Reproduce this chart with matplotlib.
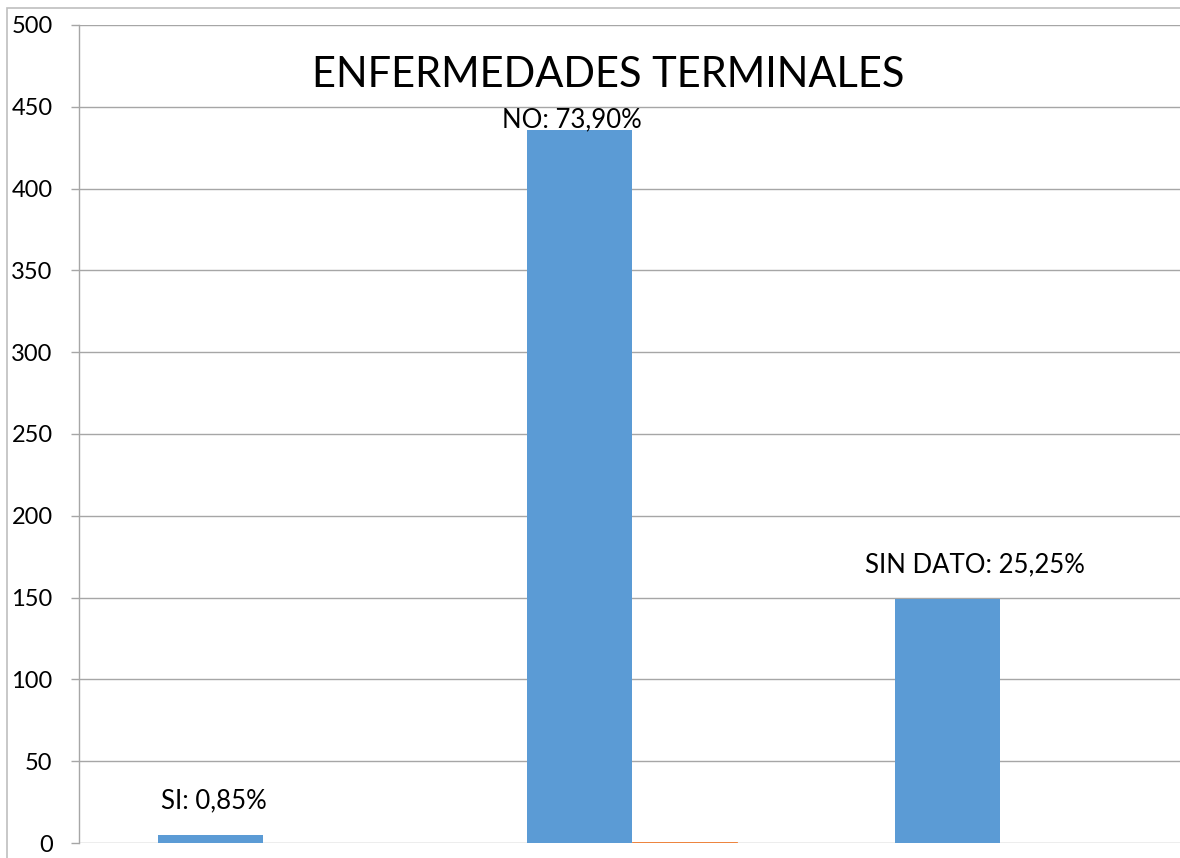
import matplotlib
matplotlib.use('Agg')
from matplotlib import pyplot as plt
from matplotlib.patches import Rectangle
import numpy as np

# Chart data
categories = ['SI', 'NO', 'SIN DATO']
counts = [5, 436, 149]
shares = [0.0085, 0.739, 0.2525]
labels = ['SI: 0,85%', 'NO: 73,90%', 'SIN DATO: 25,25%']
y_ticks = [0, 50, 100, 150, 200, 250, 300, 350, 400, 450, 500]

plt.rcParams['font.family'] = ['Lato', 'DejaVu Sans']

blue = '#5B9BD5'
orange = '#ED7D31'
grid_gray = '#A6A6A6'

fig = plt.figure(figsize=(11.8, 8.58), dpi=100, facecolor='white')

# outer chart border
fig.patches.append(Rectangle((7 / 1180, -0.1), 1.2, (858 - 8) / 858 + 0.1,
                             transform=fig.transFigure, fill=False,
                             edgecolor='#BFBFBF', linewidth=1.2))

ax = fig.add_axes([79 / 1180, 15 / 858, 1105.5 / 1180, 818 / 858])

x = np.arange(len(categories))
width = 0.285
ax.bar(x - width / 2, counts, width, color=blue, zorder=3)
# the orange series is almost flat; a thin edge keeps it visible like the original
ax.bar(x + width / 2, shares, width, color=orange, edgecolor=orange,
       linewidth=0.6, zorder=3)

ax.set_xlim(-0.5, len(categories) - 0.5)
ax.set_ylim(0, 500)
ax.set_yticks(y_ticks)
ax.set_xticks([])
ax.yaxis.grid(True, color=grid_gray, linewidth=1.0, zorder=0)
ax.tick_params(axis='y', length=6, width=1.0, color=grid_gray, pad=13, labelsize=17)

for side in ['top', 'right', 'bottom']:
    ax.spines[side].set_visible(False)
ax.spines['left'].set_color(grid_gray)
ax.spines['left'].set_linewidth(1.0)

# data labels, placed like the hand-moved labels in the original
label_x = [-0.134, 0.838, 1.931]
label_y = [26, 442, 170]
for lx, ly, text in zip(label_x, label_y, labels):
    ax.text(lx, ly, text, ha='center', va='center', fontsize=18.5, zorder=4)

fig.text(608 / 1180, 1 - 75 / 858, 'ENFERMEDADES TERMINALES',
         ha='center', va='center', fontsize=30)

fig.savefig('out.png', dpi=100, facecolor='white')
plt.close()
